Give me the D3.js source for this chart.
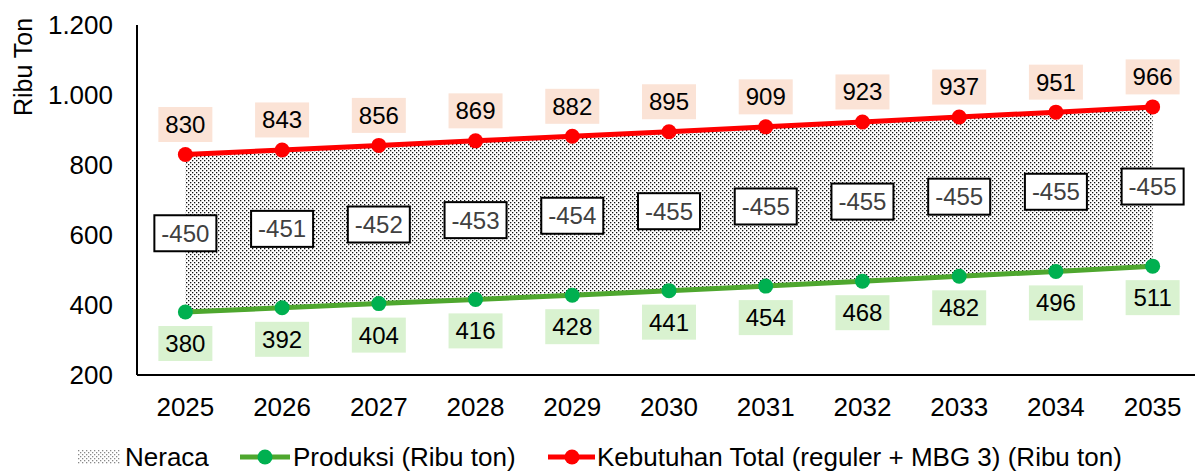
<!DOCTYPE html>
<html><head><meta charset="utf-8">
<script src="https://cdn.jsdelivr.net/npm/d3@7"></script>
<style>body{margin:0;background:#fff}svg{display:block;font-family:"Liberation Sans",Arial,sans-serif}</style>
</head><body><svg id="c" width="1195" height="471"></svg>
<script>
const years = ["2025","2026","2027","2028","2029","2030","2031","2032","2033","2034","2035"];
const produksi = [380,392,404,416,428,441,454,468,482,496,511];
const kebutuhan = [830,843,856,869,882,895,909,923,937,951,966];
const neraca = [-450,-451,-452,-453,-454,-455,-455,-455,-455,-455,-455];
const yTicks = [200,400,600,800,1000,1200];
const tickLabels = ["200","400","600","800","1.000","1.200"];
const legendLabels = ["Neraca","Produksi (Ribu ton)","Kebutuhan Total (reguler + MBG 3) (Ribu ton)"];

(function(){
const svg = d3.select("#c");
const pL = 137, pR = 1201, pT = 25, pB = 375;
const x = d3.scaleBand().domain(years).range([pL, pR]);
const y = d3.scaleLinear().domain([200,1200]).range([pB, pT]);
const cx = d => x(d) + x.bandwidth()/2;
const AX = 26, LB = 24;

const defs = svg.append("defs");
const pat = defs.append("pattern").attr("id","dots").attr("patternUnits","userSpaceOnUse").attr("width",4).attr("height",4);
pat.append("rect").attr("x",0).attr("y",0).attr("width",1.3).attr("height",1.3).attr("fill","#111");
pat.append("rect").attr("x",2).attr("y",2).attr("width",1.3).attr("height",1.3).attr("fill","#111");

const area = d3.area().x((d,i)=>cx(years[i])).y0((d,i)=>y(produksi[i])).y1((d,i)=>y(kebutuhan[i]));
svg.append("path").datum(years).attr("d", area).attr("fill","url(#dots)");

svg.append("line").attr("x1",pL).attr("x2",pL).attr("y1",pT).attr("y2",pB).attr("stroke","#000").attr("stroke-width",2);
svg.append("line").attr("x1",pL).attr("x2",pR).attr("y1",pB).attr("y2",pB).attr("stroke","#000").attr("stroke-width",2);

svg.selectAll(".yt").data(yTicks).enter().append("text")
  .attr("x",113).attr("y",d=>y(d)).attr("dy","0.35em").attr("text-anchor","end")
  .attr("font-size",AX).attr("fill","#000").text((d,i)=>tickLabels[i]);
svg.selectAll(".xt").data(years).enter().append("text")
  .attr("x",d=>cx(d)).attr("y",407).attr("dy","0.35em").attr("text-anchor","middle")
  .attr("font-size",AX).attr("fill","#000").text(d=>d);
svg.append("text").attr("transform","translate(23,67) rotate(-90)").attr("dy","0.35em")
  .attr("text-anchor","middle").attr("font-size",25).attr("fill","#000").text("Ribu Ton");

const line = arr => d3.line().x((d,i)=>cx(years[i])).y(d=>y(d))(arr);
svg.append("path").attr("d",line(produksi)).attr("fill","none").attr("stroke","#4EA72E").attr("stroke-width",5);
svg.append("path").attr("d",line(kebutuhan)).attr("fill","none").attr("stroke","#FF0000").attr("stroke-width",5);
svg.selectAll(".pg").data(produksi).enter().append("circle").attr("cx",(d,i)=>cx(years[i])).attr("cy",d=>y(d)).attr("r",7.5).attr("fill","#00B050");
svg.selectAll(".pr").data(kebutuhan).enter().append("circle").attr("cx",(d,i)=>cx(years[i])).attr("cy",d=>y(d)).attr("r",7.5).attr("fill","#FF0000");

function label(xc, yc, txt, bg, color){
  const w = 54, h = 35;
  svg.append("rect").attr("x",xc-w/2).attr("y",yc-h/2).attr("width",w).attr("height",h).attr("fill",bg);
  svg.append("text").attr("x",xc).attr("y",yc).attr("dy","0.35em").attr("text-anchor","middle")
    .attr("font-size",LB).attr("fill",color).text(txt);
}
years.forEach((yr,i)=>{
  label(cx(yr), y(kebutuhan[i])-30, kebutuhan[i], "#FBE3D6", "#000");
  label(cx(yr), y(produksi[i])+31.5, produksi[i], "#D9F2D0", "#000");
  const mid = (kebutuhan[i]+produksi[i])/2;
  const w = 62, h = 36, xc = cx(yr), yc = y(mid);
  svg.append("rect").attr("x",xc-w/2).attr("y",yc-h/2).attr("width",w).attr("height",h).attr("fill","#fff").attr("stroke","#000").attr("stroke-width",2);
  svg.append("text").attr("x",xc).attr("y",yc).attr("dy","0.35em").attr("text-anchor","middle").attr("font-size",LB).attr("fill","#404040").text(neraca[i]);
});

const ly = 457;
svg.append("rect").attr("x",78).attr("y",ly-7).attr("width",42).attr("height",14).attr("fill","url(#dots)").attr("opacity",0.5);
svg.append("text").attr("x",125).attr("y",ly).attr("dy","0.35em").attr("font-size",AX).attr("fill","#000").text(legendLabels[0]);
svg.append("line").attr("x1",240).attr("x2",290).attr("y1",ly).attr("y2",ly).attr("stroke","#4EA72E").attr("stroke-width",5);
svg.append("circle").attr("cx",265).attr("cy",ly).attr("r",7.5).attr("fill","#00B050");
svg.append("text").attr("x",293).attr("y",ly).attr("dy","0.35em").attr("font-size",AX).attr("fill","#000").text(legendLabels[1]);
svg.append("line").attr("x1",548).attr("x2",595).attr("y1",ly).attr("y2",ly).attr("stroke","#FF0000").attr("stroke-width",5);
svg.append("circle").attr("cx",572).attr("cy",ly).attr("r",7.5).attr("fill","#FF0000");
svg.append("text").attr("x",597).attr("y",ly).attr("dy","0.35em").attr("font-size",AX).attr("fill","#000").text(legendLabels[2]);
})();
</script></body></html>
